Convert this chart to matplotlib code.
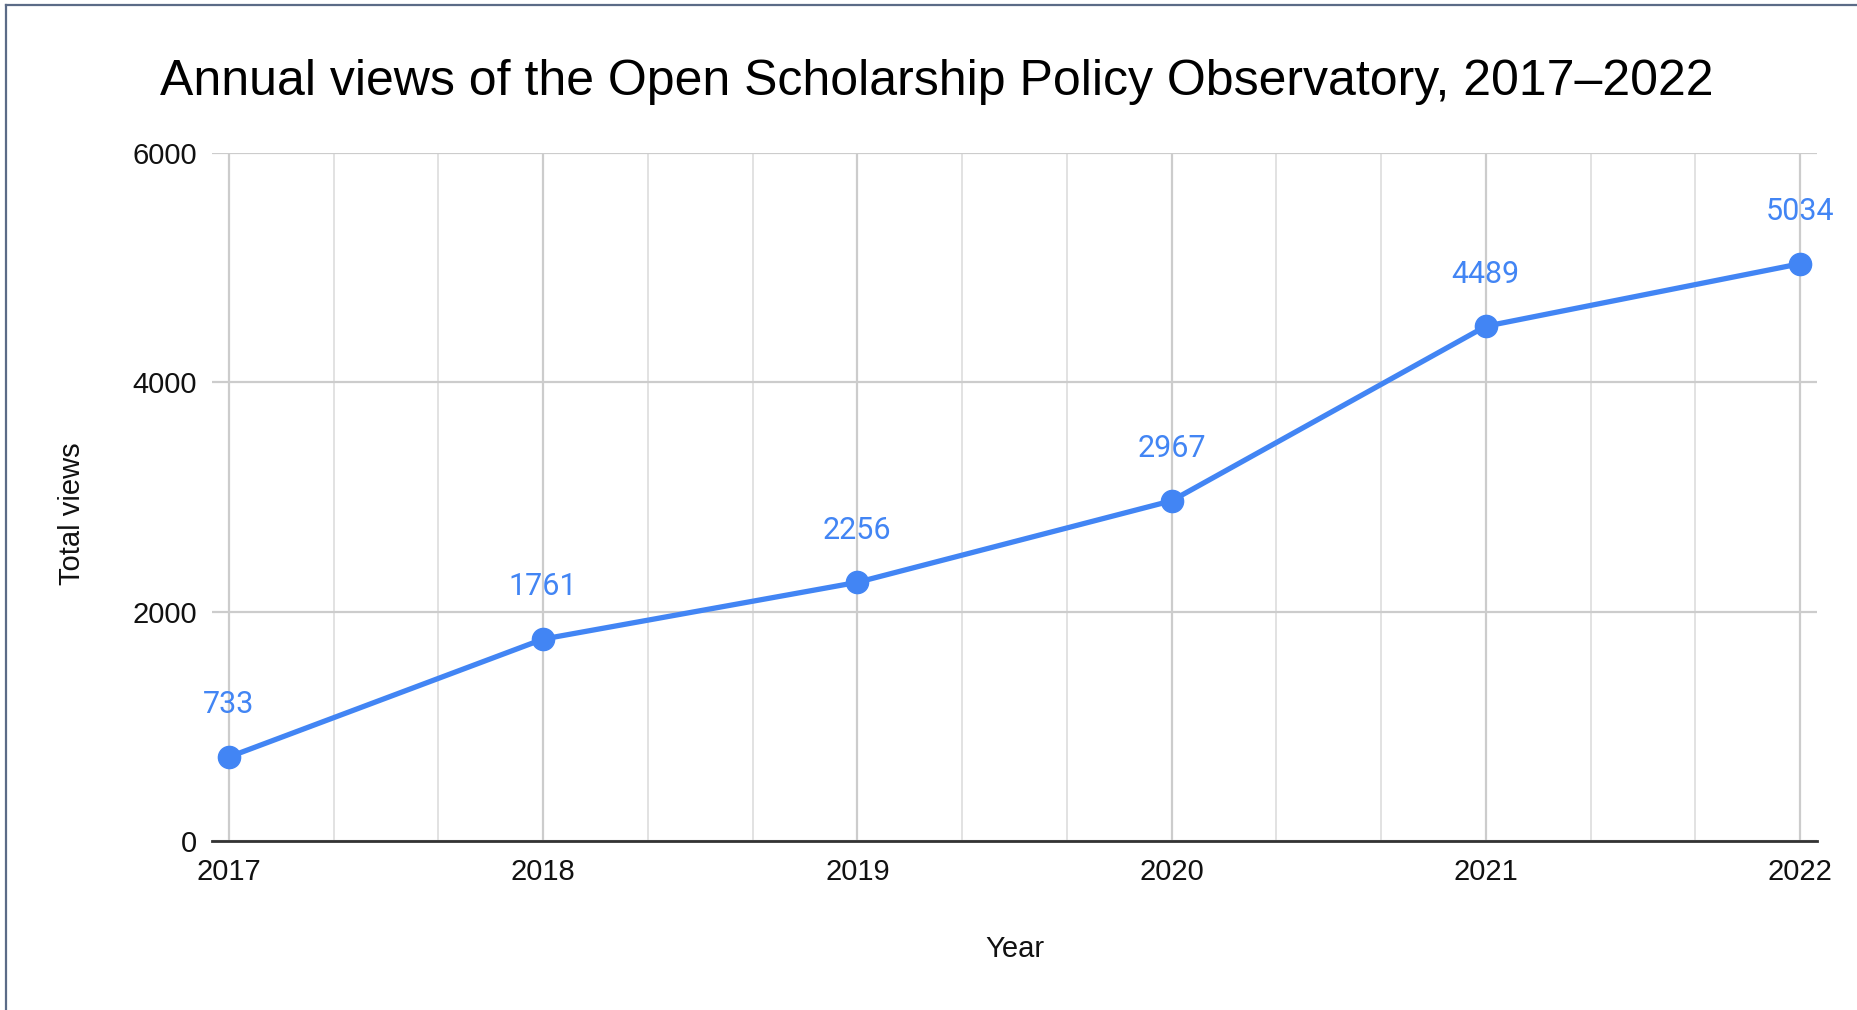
import matplotlib
matplotlib.use("Agg")
import matplotlib.pyplot as plt
from matplotlib.ticker import MultipleLocator, FixedLocator
from matplotlib.lines import Line2D

years = [2017, 2018, 2019, 2020, 2021, 2022]
views = [733, 1761, 2256, 2967, 4489, 5034]
y_ticks = [0, 2000, 4000, 6000]
title = "Annual views of the Open Scholarship Policy Observatory, 2017\u20132022"
x_label = "Year"
y_label = "Total views"

W, H = 1857, 1010
fig = plt.figure(figsize=(W / 100, H / 100), dpi=100)
fig.patch.set_facecolor("white")

left, right, top, bottom = 212, 1817, 153, 841
ax = fig.add_axes([left / W, 1 - bottom / H, (right - left) / W, (bottom - top) / H])

blue = "#4285F4"
ax.plot(years, views, color=blue, lw=3.8, marker="o", markersize=16,
        zorder=5, clip_on=False, solid_capstyle="round")

for x, v in zip(years, views):
    ax.annotate(str(v), (x, v), xytext=(0, 37.5), textcoords="offset points",
                ha="center", va="center", color=blue, fontsize=22,
                family=["Roboto", "DejaVu Sans"], zorder=6, annotation_clip=False)

span = (1817 - 1800) / ((1800 - 229) / 5)
ax.set_xlim(years[0] - span, years[-1] + span)
ax.set_ylim(y_ticks[0], y_ticks[-1])

ax.xaxis.set_major_locator(FixedLocator(years))
ax.xaxis.set_minor_locator(MultipleLocator(1 / 3))
ax.yaxis.set_major_locator(FixedLocator(y_ticks))

ax.grid(True, which="major", axis="x", color="#cccccc", lw=1.6)
ax.grid(True, which="minor", axis="x", color="#e2e2e2", lw=1.4)
ax.grid(True, which="major", axis="y", color="#cccccc", lw=1.6)
ax.set_axisbelow(True)

for s in ["top", "right", "left"]:
    ax.spines[s].set_visible(False)
ax.spines["bottom"].set_color("#333333")
ax.spines["bottom"].set_linewidth(2.0)
ax.spines["bottom"].set_zorder(4)

ax.tick_params(axis="both", which="both", length=0)
ax.tick_params(axis="y", pad=11)
ax.tick_params(axis="x", pad=12)
for lab in ax.get_xticklabels() + ax.get_yticklabels():
    lab.set_fontfamily(["Liberation Sans", "DejaVu Sans"])
    lab.set_fontsize(21)
    lab.set_color("#111111")

fig.text(936.5 / W, 1 - 95 / H, title, ha="center", va="baseline",
         fontsize=36, family=["Liberation Sans", "DejaVu Sans"], color="#000000")
fig.text(1015 / W, 1 - 957 / H, x_label, ha="center", va="baseline",
         fontsize=21, family=["Liberation Sans", "DejaVu Sans"], color="#111111")
fig.text(72 / W, 1 - 514 / H, y_label, ha="center", va="center", rotation=90,
         fontsize=21, family=["Liberation Sans", "DejaVu Sans"], color="#111111")

border = "#5b6b87"
fig.add_artist(Line2D([5.5 / W, 5.5 / W], [0, 1 - 4.5 / H], color=border, lw=1.6,
                      transform=fig.transFigure))
fig.add_artist(Line2D([5.5 / W, 1], [1 - 4.5 / H, 1 - 4.5 / H], color=border, lw=1.6,
                      transform=fig.transFigure))

fig.savefig("out.png", dpi=100, facecolor="white")
